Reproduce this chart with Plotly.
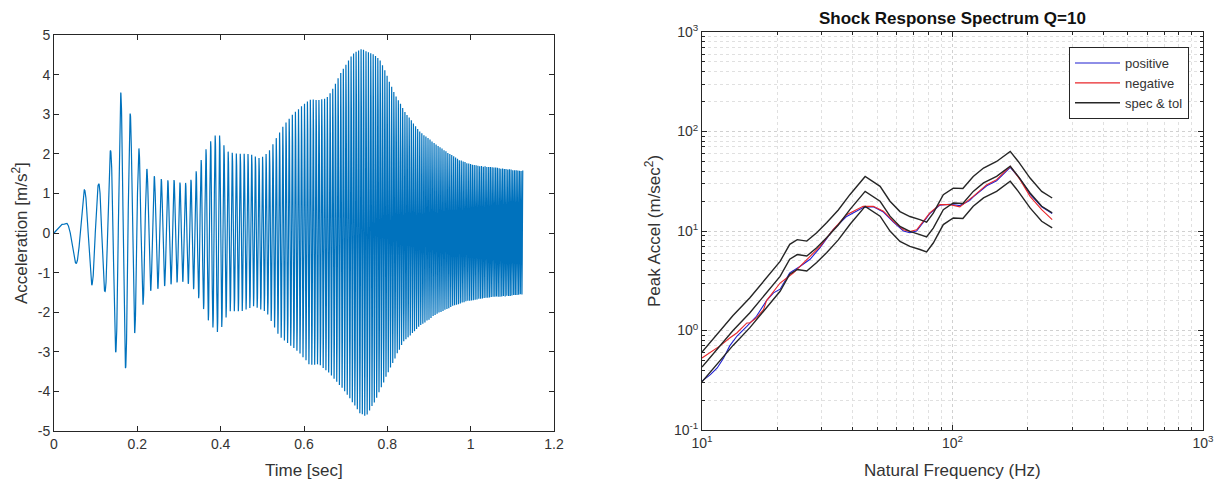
import numpy as np
import plotly.graph_objects as go

# ---------------------------------------------------------------------------
# Left panel: swept-sine base acceleration time history
# ---------------------------------------------------------------------------
# instantaneous sweep frequency (Hz) at given times (s)
sweep_t = [0.00, 0.03, 0.06, 0.10, 0.14, 0.18, 0.22, 0.26, 0.30, 0.35, 0.40,
           0.50, 0.60, 0.70, 0.74, 0.80, 0.90, 1.00, 1.125]
sweep_hz = [10, 14, 24, 31, 39, 45, 54, 62, 72, 84, 96,
            118, 140, 161, 170, 183, 205, 226, 253]

# positive-peak envelope (m/s^2)
peak_t = [0.000, 0.025, 0.072, 0.107, 0.136, 0.160, 0.182, 0.202, 0.219, 0.237,
          0.255, 0.270, 0.284, 0.299, 0.312, 0.324, 0.336, 0.348, 0.360, 0.372,
          0.384, 0.395, 0.405, 0.416, 0.440, 0.470, 0.495, 0.515, 0.549, 0.573,
          0.598, 0.614, 0.638, 0.654, 0.670, 0.686, 0.702, 0.722, 0.741, 0.761,
          0.781, 0.797, 0.821, 0.845, 0.877, 0.909, 0.941, 0.973, 1.005, 1.037,
          1.069, 1.101, 1.125]
peak_hi = [0.20, 0.23, 1.09, 1.24, 2.10, 3.55, 3.06, 2.19, 1.66, 1.45,
           1.37, 1.32, 1.36, 1.28, 1.26, 1.28, 1.45, 1.71, 2.02, 2.26,
           2.44, 2.53, 2.27, 2.06, 2.00, 2.00, 1.88, 2.05, 2.69, 3.00,
           3.24, 3.37, 3.37, 3.41, 3.66, 4.00, 4.29, 4.59, 4.65, 4.55,
           4.42, 4.04, 3.45, 3.03, 2.57, 2.31, 2.06, 1.85, 1.72, 1.68,
           1.64, 1.60, 1.58]

# negative-peak envelope (m/s^2)
trough_t = [0.000, 0.052, 0.091, 0.122, 0.148, 0.171, 0.192, 0.211, 0.228, 0.245,
            0.261, 0.277, 0.291, 0.305, 0.319, 0.331, 0.343, 0.355, 0.367, 0.379,
            0.390, 0.400, 0.412, 0.422, 0.450, 0.480, 0.510, 0.540, 0.589, 0.613,
            0.637, 0.661, 0.701, 0.733, 0.749, 0.773, 0.805, 0.837, 0.877, 0.917,
            0.957, 0.989, 1.037, 1.085, 1.125]
trough_lo = [-0.30, -0.76, -1.31, -1.47, -3.01, -3.45, -2.59, -1.87, -1.47, -1.43,
             -1.35, -1.31, -1.26, -1.22, -1.26, -1.35, -1.56, -1.81, -2.15, -2.35,
             -2.52, -2.44, -2.15, -1.98, -1.98, -1.85, -2.00, -2.60, -3.03, -3.33,
             -3.33, -3.54, -4.04, -4.55, -4.63, -4.21, -3.45, -2.78, -2.36, -2.06,
             -1.85, -1.73, -1.64, -1.60, -1.56]

fs = 5000.0
t = np.arange(0.0, 1.125 + 0.5 / fs, 1.0 / fs)
f_inst = np.interp(t, sweep_t, sweep_hz)
phase = 2 * np.pi * np.concatenate([[0.0], np.cumsum(0.5 * (f_inst[1:] + f_inst[:-1]) / fs)])
s = np.sin(phase)
hi = np.interp(t, peak_t, peak_hi)
lo = np.abs(np.interp(t, trough_t, trough_lo))
acc = np.where(s >= 0, s * hi, s * lo)

# ---------------------------------------------------------------------------
# Right panel: shock response spectrum, Q=10
# ---------------------------------------------------------------------------
spec_hz = [10.0, 11.8, 13.3, 15.5, 18.1, 20.5, 22.4, 24.0, 26.2, 28.7, 31.5, 35.0,
           39.0, 44.8, 51.4, 56.3, 61.7, 67.6, 74.1, 78.8, 83.8, 91.9, 100.7, 110.0,
           121.0, 133.0, 150.0, 170.0, 183.0, 204.0, 227.0, 250.0]
spec_g = [0.43, 0.70, 1.00, 1.50, 2.40, 3.50, 5.20, 5.80, 5.60, 6.80, 8.60, 11.5,
          16.5, 25.0, 19.9, 14.1, 11.1, 9.9, 9.2, 8.7, 10.7, 16.4, 19.1, 18.9,
          25.0, 30.4, 35.4, 44.7, 35.4, 24.1, 17.7, 15.2]
tol_db = 3.0  # +/- tolerance band around the specification

pos_hz = [10.0, 10.8, 11.5, 12.2, 12.9, 13.8, 15.1, 16.5, 18.1, 19.3, 20.5, 22.4,
          24.6, 27.0, 29.6, 33.4, 37.8, 44.0, 48.3, 53.0, 58.1, 63.7, 67.6, 71.9,
          76.4, 81.2, 89.1, 97.7, 107.0, 117.0, 121.0, 137.0, 150.0, 170.0, 186.0,
          204.0, 227.0, 250.0]
pos_g = [0.31, 0.36, 0.42, 0.53, 0.70, 0.88, 1.10, 1.39, 2.00, 2.39, 2.60, 3.80,
         4.40, 5.20, 6.80, 10.3, 14.0, 17.2, 17.5, 15.5, 12.3, 10.0, 9.6, 10.0,
         12.2, 15.0, 18.2, 18.6, 18.0, 20.2, 22.0, 28.5, 32.0, 43.5, 33.5,
         23.5, 17.5, 15.0]

neg_hz = [10.0, 11.8, 12.9, 13.8, 15.1, 15.5, 16.5, 17.6, 18.1, 20.5, 23.2, 26.2,
          29.6, 33.4, 37.8, 44.0, 48.3, 53.0, 58.1, 63.7, 67.6, 71.9, 76.4, 81.2,
          89.1, 97.7, 107.0, 117.0, 121.0, 137.0, 150.0, 170.0, 186.0, 204.0,
          227.0, 250.0]
neg_g = [0.53, 0.70, 0.84, 0.95, 1.19, 1.19, 1.34, 1.62, 2.00, 3.00, 3.80, 5.20,
         7.00, 10.3, 14.6, 17.7, 17.7, 15.8, 12.5, 10.3, 9.9, 10.3, 12.5, 15.2,
         18.4, 18.4, 17.5, 20.7, 22.3, 29.2, 32.8, 44.7, 32.8, 22.3,
         16.4, 13.0]

tol = 10 ** (tol_db / 20.0)
spec_hi = [v * tol for v in spec_g]
spec_lo = [v / tol for v in spec_g]

# ---------------------------------------------------------------------------
W, H = 1224, 486
FONT = "Liberation Sans, Arial, sans-serif"
AX = "#262626"
TXT = "#333333"


def px(x):
    return x / W


def py(y):
    return 1 - y / H


fig = go.Figure()

fig.add_trace(go.Scatter(x=t, y=acc, mode="lines",
                         line=dict(color="#0072BD", width=1.2),
                         xaxis="x", yaxis="y", showlegend=False))

fig.add_trace(go.Scatter(x=pos_hz, y=pos_g, mode="lines", name="positive",
                         line=dict(color="#1f1fd0", width=1.1),
                         xaxis="x2", yaxis="y2"))
fig.add_trace(go.Scatter(x=neg_hz, y=neg_g, mode="lines", name="negative",
                         line=dict(color="#e8262a", width=1.1),
                         xaxis="x2", yaxis="y2"))
fig.add_trace(go.Scatter(x=spec_hz, y=spec_g, mode="lines", name="spec & tol",
                         line=dict(color="#262626", width=1.4),
                         xaxis="x2", yaxis="y2"))
fig.add_trace(go.Scatter(x=spec_hz, y=spec_hi, mode="lines", showlegend=False,
                         line=dict(color="#262626", width=1.4),
                         xaxis="x2", yaxis="y2"))
fig.add_trace(go.Scatter(x=spec_hz, y=spec_lo, mode="lines", showlegend=False,
                         line=dict(color="#262626", width=1.4),
                         xaxis="x2", yaxis="y2"))

tick_font = dict(family=FONT, size=14, color=TXT)
common = dict(zeroline=False, ticks="inside", ticklen=5, tickcolor=AX,
              showline=True, linecolor=AX, linewidth=1, mirror="ticks",
              tickfont=tick_font, automargin=False)
log_minor = dict(dtick="D1", ticks="inside", ticklen=3, tickcolor=AX,
                 showgrid=True, gridcolor="#e0e0e0", griddash="dot")

fig.update_layout(
    width=W, height=H,
    margin=dict(l=0, r=0, t=0, b=0, autoexpand=False),
    paper_bgcolor="white", plot_bgcolor="white",
    font=dict(family=FONT, color=TXT),
    xaxis=dict(domain=[px(54), px(554)], range=[0, 1.2], dtick=0.2,
               showgrid=False, anchor="y", **common),
    yaxis=dict(domain=[py(431), py(35)], range=[-5, 5],
               tickvals=list(range(-5, 6)),
               ticktext=[str(v) for v in range(-5, 6)],
               showgrid=False, anchor="x", **common),
    xaxis2=dict(domain=[px(702), px(1203)], type="log", range=[1, 3],
                tickvals=[10, 100, 1000],
                ticktext=["10<sup>1</sup>", "10<sup>2</sup>", "10<sup>3</sup>"],
                showgrid=True, gridcolor="#d0d0d0", griddash="dot", gridwidth=1,
                minor=log_minor, anchor="y2", **common),
    yaxis2=dict(domain=[py(430), py(32)], type="log", range=[-1, 3],
                tickvals=[0.1, 1, 10, 100, 1000],
                ticktext=["10<sup>-1</sup>", "10<sup>0</sup>", "10<sup>1</sup>",
                          "10<sup>2</sup>", "10<sup>3</sup>"],
                showgrid=True, gridcolor="#d0d0d0", griddash="dot", gridwidth=1,
                minor=log_minor, anchor="x2", **common),
    legend=dict(x=px(1189), y=py(47), xanchor="right", yanchor="top",
                bgcolor="white", bordercolor=AX, borderwidth=1,
                font=dict(family=FONT, size=13, color=TXT),
                itemwidth=45, tracegroupgap=0),
    annotations=[
        dict(text="Time [sec]", x=px(304), y=py(470), xref="paper", yref="paper",
             showarrow=False, xanchor="center", yanchor="middle",
             font=dict(family=FONT, size=17, color=TXT)),
        dict(text="Acceleration [m/s<sup>2</sup>]", x=px(20), y=py(233),
             xref="paper", yref="paper", showarrow=False, textangle=-90,
             xanchor="center", yanchor="middle",
             font=dict(family=FONT, size=17, color=TXT)),
        dict(text="Natural Frequency (Hz)", x=px(952.5), y=py(470),
             xref="paper", yref="paper", showarrow=False,
             xanchor="center", yanchor="middle",
             font=dict(family=FONT, size=17, color=TXT)),
        dict(text="Peak Accel (m/sec<sup>2</sup>)", x=px(653), y=py(231),
             xref="paper", yref="paper", showarrow=False, textangle=-90,
             xanchor="center", yanchor="middle",
             font=dict(family=FONT, size=17, color=TXT)),
        dict(text="<b>Shock Response Spectrum Q=10</b>", x=px(952.5), y=py(19),
             xref="paper", yref="paper", showarrow=False,
             xanchor="center", yanchor="middle",
             font=dict(family=FONT, size=17, color="#111111")),
    ],
)

fig.write_html("out.html")
